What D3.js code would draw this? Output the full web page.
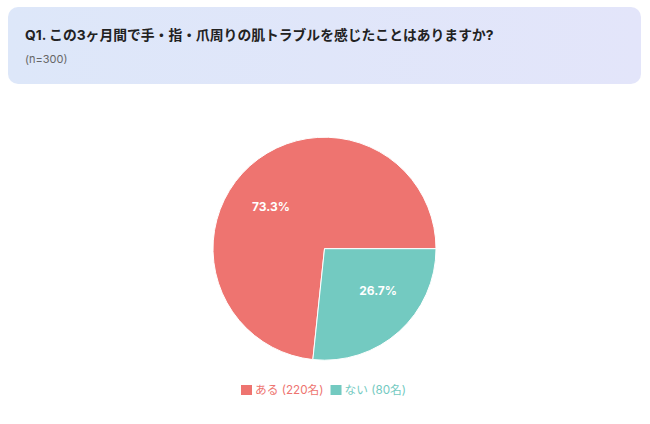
<!DOCTYPE html>
<html><head><meta charset="utf-8">
<script src="https://cdn.jsdelivr.net/npm/d3@7"></script>
<style>
html,body{margin:0;padding:0;background:#fff;}
body{width:650px;height:424px;overflow:hidden;font-family:Inter,"Noto Sans CJK JP","Noto Sans",sans-serif;}
</style></head><body>
<svg id="chart" width="650" height="424"></svg>
<script>
const categories = ["ある", "ない"];
const counts = [220, 80];
const percentLabels = ["73.3%", "26.7%"];
const legendLabels = ["ある (220名)", "ない (80名)"];
const colors = ["#ee7470", "#73cac1"];
const titleText = "Q1. この3ヶ月間で手・指・爪周りの肌トラブルを感じたことはありますか?";
const subtitleText = "(n=300)";

const svg = d3.select("#chart");
const defs = svg.append("defs");
const grad = defs.append("linearGradient").attr("id","hdr").attr("x1","0").attr("x2","1").attr("y1","0").attr("y2","0");
grad.append("stop").attr("offset","0%").attr("stop-color","#dde7f9");
grad.append("stop").attr("offset","100%").attr("stop-color","#e3e5fa");

svg.append("rect").attr("x",8).attr("y",7).attr("width",633).attr("height",77).attr("rx",10).attr("fill","url(#hdr)");
svg.append("text").attr("x",25).attr("y",39.5).attr("font-size",13.8).attr("font-weight",700).attr("fill","#222")
  .text(titleText);
svg.append("text").attr("x",25).attr("y",62.5).attr("font-size",11).attr("fill","#666").text(subtitleText);

const cx = 324.5, cy = 248.7, r = 111.5;
const g = svg.append("g").attr("transform",`translate(${cx},${cy})`);
const pie = d3.pie().sort(null).value(d=>d).startAngle(Math.PI/2).endAngle(Math.PI/2 - 2*Math.PI);
const arcs = pie(counts);
const arc = d3.arc().innerRadius(0).outerRadius(r);
g.selectAll("path").data(arcs).join("path")
  .attr("d",arc).attr("fill",(d,i)=>colors[i]).attr("stroke","#fff").attr("stroke-width",1);

const labelR = r*0.61;
const labelShift = -10*Math.PI/180;
g.selectAll("text.pl").data(arcs).join("text").attr("class","pl")
  .attr("transform",d=>{
    const a = (d.startAngle+d.endAngle)/2 + labelShift;
    return `translate(${Math.sin(a)*labelR},${-Math.cos(a)*labelR})`;
  })
  .attr("text-anchor","middle").attr("dominant-baseline","central")
  .attr("font-size",12).attr("font-weight",700).attr("fill","#fff")
  .text((d,i)=>percentLabels[i]);

const legend = svg.append("g").attr("transform","translate(241,390)");
let xoff = 0;
legendLabels.forEach((lab,i)=>{
  const it = legend.append("g").attr("transform",`translate(${xoff},0)`);
  it.append("rect").attr("x",0).attr("y",-5).attr("width",11).attr("height",10).attr("fill",colors[i]);
  const t = it.append("text").attr("x",14).attr("y",0).attr("dominant-baseline","central")
    .attr("font-size",11.7).attr("fill",colors[i]).text(lab);
  xoff += 14 + t.node().getComputedTextLength() + 7;
});
</script></body></html>
